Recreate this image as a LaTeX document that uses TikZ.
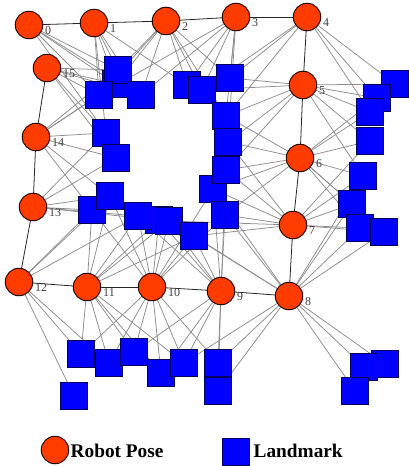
\documentclass[tikz,border=0pt]{standalone}
\usepackage{fontspec}
\setmainfont{Liberation Serif}
\pgfdeclarelayer{bg}
\pgfsetlayers{bg,main}
\definecolor{posecol}{RGB}{255,60,0}
\definecolor{poseline}{RGB}{40,10,0}
\definecolor{lmcol}{RGB}{0,0,255}
\definecolor{lmline}{RGB}{0,0,90}
\definecolor{obscol}{RGB}{140,140,140}
\begin{document}
\begin{tikzpicture}[x=1pt,y=-1pt,
  pose/.style={circle,draw=poseline,fill=posecol,minimum size=27.5pt,inner sep=0pt,line width=1pt},
  lm/.style={rectangle,draw=lmline,fill=lmcol,minimum size=27.5pt,inner sep=0pt,line width=1.1pt},
  obs/.style={draw=obscol,line width=0.75pt},
  chain/.style={draw=black!85,line width=0.8pt},
  num/.style={font=\fontsize{12}{12}\selectfont,text=black!75,inner sep=0pt,anchor=west},
  legtext/.style={font=\fontsize{19.3}{20}\selectfont\bfseries,inner sep=0pt,anchor=west}]
\useasboundingbox (0,0) rectangle (408,466);
% poses
\foreach \i/\x/\y in {0/29/25,1/94/23,2/166/21,3/236/17,4/307/17,5/303/85,6/300/158,7/293/225,8/289/296,9/221/291,10/152/287,11/87/287,12/19/282,13/33/207,14/36/137,15/47/68}{
  \node[pose] (p\i) at (\x,\y) {};
  \node[num] (n\i) at (\x+16,\y+6) {\i};
}
% landmarks
\foreach \n/\x/\y in {B/116/84,A/118/70,C/99/95,D/141/95,E/187/85,F/202/90,G/230/78,H/226/116,I/228/142,K/213/189,J/226/170,L/106/133,M/116/158,O/92/210,N/110/196,Q/159/220,P/138/216,R/169/221,S/194/236,T/225/215,U/81/354,V/109/363,W/134/352,X/161/373,Y/184/363,Z/218/363,Z2/218/391,a/74/396,b/395/84,c/377/98,e/370/141,d/370/112,f/363/176,g/352/204,h/360/228,i/384/232,j/385/364,k/364/367,l/355/391}{
  \node[lm] (\n) at (\x,\y) {};
}
\begin{pgfonlayer}{bg}
\foreach \p/\ls in {0/{A,B,C,L,D},1/{A,B,C,D,E,L},2/{A,B,C,D,E,F,G,H},3/{C,D,E,F,G,H,I},4/{F,G,H,b,c,d},5/{G,H,I,J,F,b,c,d,e,f},6/{H,I,J,K,T,d,e,c,f,g,h,i},7/{I,J,K,T,S,R,e,f,g,h,i},8/{K,S,R,T,Y,Z,Z2,f,g,h,i,j,k,l},9/{T,S,R,Q,P,K,J,Z,Z2,Y,X,W},10/{P,Q,R,S,T,N,O,K,U,V,W,X,Y,Z},11/{N,O,P,Q,R,S,U,V,W,X,Y},12/{O,N,P,U,V,a},13/{L,M,N,O,P,Q},14/{L,M,N,O,C,B,A},15/{A,B,C,L,M,D}}{
  \foreach \l in \ls { \draw[obs] (p\p.center) -- (\l.center); }
}
\foreach \a/\b in {0/1,1/2,2/3,3/4,4/5,5/6,6/7,7/8,8/9,9/10,10/11,11/12,12/13,13/14,14/15}{
  \draw[chain] (p\a.center) -- (p\b.center);
}
\end{pgfonlayer}
% legend
\node[pose] (legpose) at (55,450) {};
\node[legtext] (legposet) at (70.5,451) {Robot Pose};
\node[lm] (leglm) at (236,452) {};
\node[legtext] (leglmt) at (253.5,451) {Landmark};
\end{tikzpicture}
\end{document}
